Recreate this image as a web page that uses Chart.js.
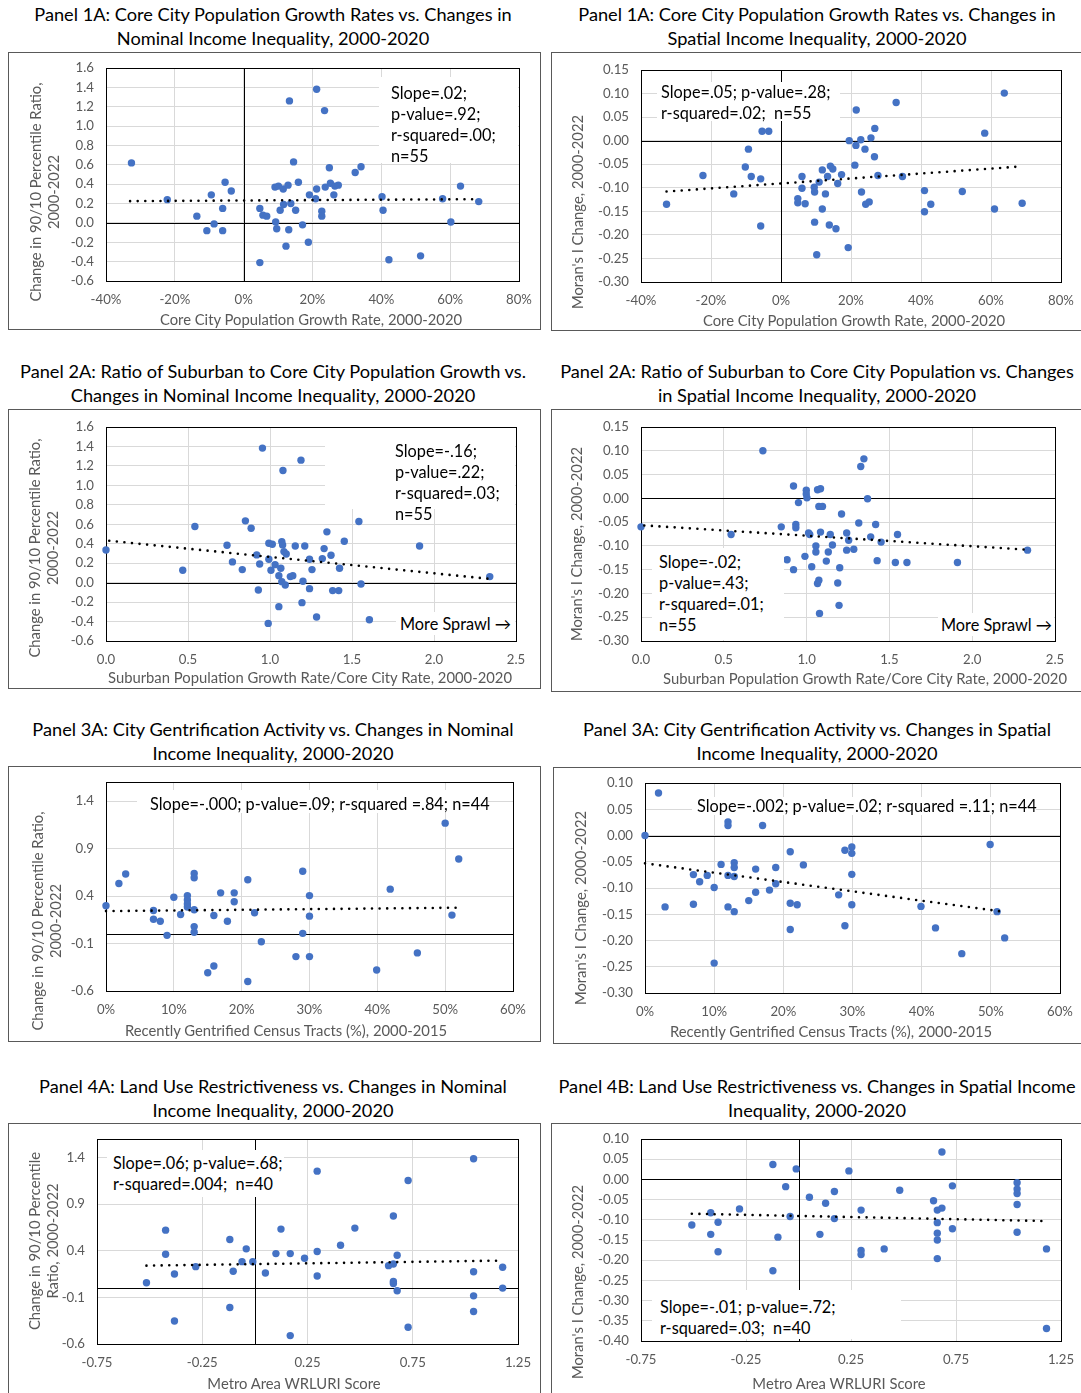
<!DOCTYPE html>
<html>
<head>
<meta charset="utf-8">
<script src="https://cdn.jsdelivr.net/npm/chart.js@4.4.0/dist/chart.umd.min.js"></script>
<style>
  body { margin: 0; width: 1081px; height: 1393px; background: #fff; position: relative; overflow: hidden;
         font-family: Lato, "Open Sans", sans-serif; }
  .title { position: absolute; width: 530px; text-align: center; font-size: 18.2px; line-height: 24px; color: #000; white-space: nowrap; }
  .box { position: absolute; box-sizing: border-box; border: 1px solid #595959; z-index: 3; }
  canvas { position: absolute; z-index: 1; }
  .bg { position: absolute; background: #fff; z-index: 2; }
  .note { position: absolute; font-size: 16.3px; color: #000; white-space: pre; z-index: 2; }
  .xt, .yt { position: absolute; color: #595959; white-space: nowrap; z-index: 2; text-align: center; }
  .xt { font-size: 14.8px; transform: translate(-50%, -50%); }
  .yt { font-size: 14.8px; line-height: 18px; transform: translate(-50%, -50%) rotate(-90deg); }
</style>
</head>
<body>
<script>
// Panel 1: core city population growth (%)
const growthNomX = [-32.6, -22.2, -13.6, -10.7, -9.4, -8.6, -6.1, -6.1, -5.4, -3.6, 4.7, 4.7, 5.6, 6.7, 9.1, 9.3, 9.6, 10.1, 10.6, 11.5, 11.6, 12.3, 12.9, 13.1, 13.3, 13.7, 14.5, 15.1, 15.9, 17.1, 18.8, 19.1, 20.9, 21.2, 21.2, 22.7, 22.7, 23.5, 23.7, 24.9, 25.2, 26.2, 26.5, 27.5, 32.4, 34.1, 40.2, 40.5, 42.2, 51.4, 57.8, 60.2, 63.0, 68.3];
const growthNomY = [0.62, 0.24, 0.07, -0.08, 0.29, -0.01, 0.15, -0.08, 0.42, 0.33, 0.15, -0.41, 0.08, 0.07, 0.37, 0.01, -0.06, 0.38, 0.13, 0.35, 0.19, -0.24, 0.39, -0.07, 1.26, 0.2, 0.63, 0.13, 0.42, -0.02, -0.2, 0.29, 0.25, 1.38, 0.35, 0.12, 0.07, 1.16, 0.37, 0.57, 0.41, 0.29, 0.38, 0.39, 0.52, 0.58, 0.27, 0.13, -0.38, -0.34, 0.25, 0.01, 0.38, 0.22];
const growthNomTrendX = [-33, 68];
const growthNomTrendY = [0.225, 0.245];

const growthSpaX = [-32.7, -22.3, -13.5, -10.2, -9.3, -8.5, -5.8, -5.8, -5.4, -3.5, 4.8, 4.8, 6.0, 6.0, 6.9, 9.5, 9.6, 9.6, 10.2, 10.9, 11.8, 11.8, 12.7, 13.3, 13.8, 14.1, 14.8, 15.7, 16.2, 17.3, 19.2, 19.5, 21.1, 21.4, 21.5, 22.8, 23.0, 24.0, 24.2, 25.2, 25.7, 26.7, 26.8, 27.7, 32.9, 34.7, 41.0, 41.0, 42.8, 51.8, 58.2, 61.0, 63.8, 68.9];
const growthSpaY = [-0.135, -0.074, -0.113, -0.056, -0.018, -0.076, -0.081, -0.181, 0.02, 0.02, -0.123, -0.132, -0.076, -0.101, -0.134, -0.099, -0.109, -0.173, -0.242, -0.088, -0.062, -0.145, -0.113, -0.076, -0.179, -0.054, -0.06, -0.187, -0.091, -0.072, -0.227, 0.0, -0.052, -0.01, 0.065, 0.002, -0.109, -0.018, -0.135, -0.13, 0.006, -0.034, 0.026, -0.074, 0.081, -0.076, -0.106, -0.151, -0.135, -0.108, 0.016, -0.145, 0.101, -0.133];
const growthSpaTrendX = [-32.7, 68.1];
const growthSpaTrendY = [-0.108, -0.055];

// Panel 2: suburban / core city growth ratio
const ratioNomX = [0, 0.468, 0.542, 0.738, 0.771, 0.831, 0.85, 0.885, 0.919, 0.929, 0.937, 0.954, 0.989, 0.993, 0.993, 1.006, 1.014, 1.031, 1.054, 1.054, 1.066, 1.072, 1.072, 1.077, 1.079, 1.085, 1.093, 1.099, 1.124, 1.139, 1.154, 1.189, 1.195, 1.201, 1.212, 1.241, 1.241, 1.256, 1.284, 1.319, 1.33, 1.347, 1.372, 1.382, 1.419, 1.424, 1.453, 1.542, 1.555, 1.606, 1.912, 2.34];
const ratioNomY = [0.336, 0.127, 0.577, 0.384, 0.213, 0.134, 0.635, 0.559, 0.285, -0.075, 0.192, 1.383, -0.419, 0.405, 0.24, 0.127, 0.395, 0.185, -0.247, 0.072, 0.148, 0.422, 0.01, 0.388, 1.153, 0.319, -0.024, 0.295, 0.062, 0.072, 0.377, 1.259, -0.206, 0.014, 0.377, 0.24, -0.062, 0.134, -0.353, 0.247, 0.35, 0.522, 0.281, -0.082, -0.082, 0.148, 0.426, 0.628, -0.014, -0.381, 0.377, 0.062];
const ratioNomTrendX = [0.02, 2.33];
const ratioNomTrendY = [0.43, 0.04];

const ratioSpaX = [0, 0.544, 0.736, 0.847, 0.882, 0.921, 0.921, 0.935, 0.935, 0.951, 0.99, 0.998, 0.998, 1.002, 1.012, 1.019, 1.031, 1.056, 1.056, 1.066, 1.066, 1.074, 1.078, 1.074, 1.084, 1.084, 1.096, 1.119, 1.131, 1.143, 1.156, 1.188, 1.196, 1.2, 1.211, 1.242, 1.242, 1.254, 1.285, 1.315, 1.327, 1.346, 1.368, 1.387, 1.417, 1.426, 1.45, 1.536, 1.549, 1.606, 1.911, 2.334];
const ratioSpaY = [-0.06, -0.076, 0.1, -0.06, -0.129, 0.026, -0.15, -0.055, -0.062, -0.009, -0.122, 0.017, 0.009, 0.001, -0.073, -0.076, -0.144, -0.1, -0.113, 0.018, -0.179, -0.172, -0.242, -0.017, 0.02, -0.071, -0.017, -0.132, -0.113, -0.076, -0.098, -0.178, -0.225, -0.146, -0.033, -0.073, -0.109, -0.088, -0.107, -0.052, 0.067, 0.083, -0.001, -0.081, -0.055, -0.131, -0.092, -0.135, -0.076, -0.135, -0.135, -0.109];
const ratioSpaTrendX = [0.02, 2.33];
const ratioSpaTrendY = [-0.057, -0.108];

// Panel 3: recently gentrified tracts (%)
const gentNomX = [0, 1.9, 2.9, 7, 7, 8, 9, 10, 11, 12, 12, 12, 12, 13, 13, 13, 13, 13, 15, 15.9, 15.9, 16.9, 17.9, 18.9, 18.9, 20.9, 20.9, 21.9, 22.9, 28, 29, 29, 30, 30, 30, 39.9, 41.9, 45.9, 50, 51, 52];
const gentNomY = [0.298, 0.532, 0.631, 0.248, 0.156, 0.135, -0.014, 0.387, 0.206, 0.404, 0.358, 0.316, 0.284, 0.638, 0.592, 0.255, 0.078, 0.018, -0.408, 0.195, -0.337, 0.433, 0.135, 0.433, 0.34, 0.571, -0.5, 0.223, -0.082, -0.238, 0.66, 0.007, 0.404, 0.188, -0.238, -0.379, 0.472, -0.199, 1.167, 0.199, 0.79];
const gentNomTrendX = [0, 52.1];
const gentNomTrendY = [0.241, 0.277];

const gentSpaX = [0, 1.95, 2.9, 7, 7, 7.9, 9, 10, 10, 11, 12, 12, 12, 12, 12.9, 12.9, 12.9, 12.9, 15, 16, 16, 17, 18, 18.9, 18.9, 21, 21, 21, 22, 22.9, 28, 28.9, 28.9, 29.9, 29.9, 29.9, 29.9, 39.9, 42, 45.8, 49.9, 50.9, 52];
const gentSpaY = [0, 0.081, -0.136, -0.0745, -0.131, -0.088, -0.076, -0.099, -0.243, -0.055, 0.026, 0.019, -0.076, -0.136, -0.052, -0.061, -0.078, -0.145, -0.124, -0.064, -0.108, 0.019, -0.104, -0.061, -0.092, -0.031, -0.129, -0.179, -0.132, -0.056, -0.113, -0.028, -0.172, -0.022, -0.034, -0.074, -0.132, -0.135, -0.176, -0.225, -0.017, -0.145, -0.195];
const gentSpaTrendX = [0, 51.7];
const gentSpaTrendY = [-0.053, -0.145];

// Panel 4: WRLURI score
const wrluriNomX = [-0.515, -0.424, -0.424, -0.382, -0.382, -0.281, -0.119, -0.119, -0.103, -0.061, -0.041, -0.01, 0.05, 0.1, 0.124, 0.168, 0.168, 0.236, 0.296, 0.296, 0.296, 0.407, 0.475, 0.635, 0.658, 0.658, 0.658, 0.658, 0.676, 0.676, 0.728, 0.728, 1.039, 1.039, 1.039, 1.039, 1.177, 1.177];
const wrluriNomY = [0.058, 0.622, 0.363, 0.151, -0.353, 0.23, 0.522, -0.209, 0.18, 0.284, 0.421, 0.284, 0.162, 0.37, 0.633, 0.37, -0.51, 0.32, 1.255, 0.392, 0.13, 0.46, 0.644, 0.241, 0.259, 0.773, 0.072, 0.05, 0.353, -0.029, 1.155, -0.421, 1.388, 0.176, -0.083, -0.252, 0.223, 0.0];
const wrluriNomTrendX = [-0.515, 1.172];
const wrluriNomTrendY = [0.241, 0.295];

const wrluriSpaX = [-0.508, -0.418, -0.418, -0.383, -0.383, -0.281, -0.122, -0.122, -0.098, -0.061, -0.04, -0.011, 0.052, 0.102, 0.129, 0.171, 0.171, 0.24, 0.298, 0.298, 0.298, 0.408, 0.482, 0.643, 0.661, 0.661, 0.661, 0.661, 0.661, 0.683, 0.683, 0.733, 0.733, 1.041, 1.041, 1.041, 1.041, 1.041, 1.181, 1.181];
const wrluriSpaY = [-0.113, -0.0825, -0.136, -0.106, -0.179, -0.073, 0.037, -0.226, -0.143, -0.018, -0.092, 0.026, -0.044, -0.136, -0.059, -0.03, -0.097, 0.021, -0.076, -0.176, -0.186, -0.172, -0.027, -0.053, -0.076, -0.107, -0.133, -0.15, -0.196, 0.068, -0.071, -0.016, -0.122, -0.008, -0.024, -0.035, -0.062, -0.131, -0.172, -0.369];
const wrluriSpaTrendX = [-0.508, 1.166];
const wrluriSpaTrendY = [-0.085, -0.103];

// tick labels
const growthTicks = [-40, -20, 0, 20, 40, 60, 80];
const ratioTicks = [0, 0.5, 1.0, 1.5, 2.0, 2.5];
const gentTicks = [0, 10, 20, 30, 40, 50, 60];
const wrluriTicks = [-0.75, -0.25, 0.25, 0.75, 1.25];
const nomTicks = [-0.6, -0.4, -0.2, 0, 0.2, 0.4, 0.6, 0.8, 1.0, 1.2, 1.4, 1.6];
const nomTicksWide = [-0.6, -0.1, 0.4, 0.9, 1.4];
const nomRange = [-0.6, 1.6];
const moranTicks1 = [-0.30, -0.25, -0.20, -0.15, -0.10, -0.05, 0, 0.05, 0.10, 0.15];
const moranTicks3 = [-0.30, -0.25, -0.20, -0.15, -0.10, -0.05, 0, 0.05, 0.10];
const moranTicks4 = [-0.40, -0.35, -0.30, -0.25, -0.20, -0.15, -0.10, -0.05, 0, 0.05, 0.10];

Chart.defaults.font.family = 'Lato, "Open Sans", sans-serif';

// plot border plus black zero axes
const frame = {
  id: 'frame',
  beforeDatasetsDraw(chart, args, opts) {
    const { ctx, chartArea: a, scales: { x, y } } = chart;
    ctx.save();
    ctx.strokeStyle = '#000';
    ctx.lineWidth = 1;
    if (opts.zeroY) {
      const py = Math.round(y.getPixelForValue(0)) + 0.5;
      ctx.beginPath(); ctx.moveTo(a.left, py); ctx.lineTo(a.right, py); ctx.stroke();
    }
    if (opts.zeroX) {
      const px = Math.round(x.getPixelForValue(0)) + 0.5;
      ctx.beginPath(); ctx.moveTo(px, a.top); ctx.lineTo(px, a.bottom); ctx.stroke();
    }
    ctx.strokeRect(Math.round(a.left) + 0.5, Math.round(a.top) + 0.5, Math.round(a.right - a.left), Math.round(a.bottom - a.top));
    ctx.restore();
  }
};

const pct = v => v + '%';
const fix = n => v => Number(v).toFixed(n);

const panels = [
  { box: [8, 52, 533, 278], plot: [106, 68, 519, 281], xs: growthNomX, ys: growthNomY, tx: growthNomTrendX, ty: growthNomTrendY,
    xTicks: growthTicks, yTicks: nomTicks, yRange: nomRange, xFmt: pct, yFmt: fix(1), zeroX: true, zeroY: true,
    title: ['Panel 1A: Core City Population Growth Rates vs. Changes in', 'Nominal Income Inequality, 2000-2020'], titleTop: 2,
    xTitle: ['Core City Population Growth Rate, 2000-2020', 311, 319],
    yTitle: [['Change in 90/10 Percentile Ratio,', '2000-2022'], 44, 192],
    notes: [{ bg: [379, 77, 139, 86], at: [391, 81.5], lh: 21, lines: ['Slope=.02;', 'p-value=.92;', 'r-squared=.00;', 'n=55'] }] },
  { box: [551, 52, 532, 279], plot: [641, 70, 1061, 282], xs: growthSpaX, ys: growthSpaY, tx: growthSpaTrendX, ty: growthSpaTrendY,
    xTicks: growthTicks, yTicks: moranTicks1, yRange: [-0.30, 0.15], xFmt: pct, yFmt: fix(2), zeroX: true, zeroY: true,
    title: ['Panel 1A: Core City Population Growth Rates vs. Changes in', 'Spatial Income Inequality, 2000-2020'], titleTop: 2,
    xTitle: ['Core City Population Growth Rate, 2000-2020', 854, 320],
    yTitle: [["Moran's I Change, 2000-2022"], 577, 212],
    notes: [{ bg: [657, 82, 183, 39], at: [661, 81], lh: 21, lines: ['Slope=.05; p-value=.28;', 'r-squared=.02;  n=55'] }] },
  { box: [8, 409, 533, 280], plot: [106, 427, 516, 641], xs: ratioNomX, ys: ratioNomY, tx: ratioNomTrendX, ty: ratioNomTrendY,
    xTicks: ratioTicks, yTicks: nomTicks, yRange: nomRange, xFmt: fix(1), yFmt: fix(1), zeroX: false, zeroY: true,
    title: ['Panel 2A: Ratio of Suburban to Core City Population Growth vs.', 'Changes in Nominal Income Inequality, 2000-2020'], titleTop: 359,
    xTitle: ['Suburban Population Growth Rate/Core City Rate, 2000-2020', 310, 677],
    yTitle: [['Change in 90/10 Percentile Ratio,', '2000-2022'], 43, 548],
    notes: [{ bg: [325, 428, 190, 81], at: [395, 439.5], lh: 21, lines: ['Slope=-.16;', 'p-value=.22;', 'r-squared=.03;', 'n=55'] },
            { bg: [396, 612, 119, 23], at: [400, 612.5], lh: 21, lines: ['More Sprawl \u2192'] }] },
  { box: [551, 409, 532, 283], plot: [641, 427, 1055, 641], xs: ratioSpaX, ys: ratioSpaY, tx: ratioSpaTrendX, ty: ratioSpaTrendY,
    xTicks: ratioTicks, yTicks: moranTicks1, yRange: [-0.30, 0.15], xFmt: fix(1), yFmt: fix(2), zeroX: false, zeroY: true,
    title: ['Panel 2A: Ratio of Suburban to Core City Population vs. Changes', 'in Spatial Income Inequality, 2000-2020'], titleTop: 359,
    xTitle: ['Suburban Population Growth Rate/Core City Rate, 2000-2020', 865, 678],
    yTitle: [["Moran's I Change, 2000-2022"], 576, 544],
    notes: [{ bg: [652, 548, 132, 92], at: [659, 550.5], lh: 21.3, lines: ['Slope=-.02;', 'p-value=.43;', 'r-squared=.01;', 'n=55'] },
            { bg: [938, 613, 116, 23], at: [941, 613.5], lh: 21, lines: ['More Sprawl \u2192'] }] },
  { box: [8, 766, 533, 276], plot: [106, 782, 513, 991], xs: gentNomX, ys: gentNomY, tx: gentNomTrendX, ty: gentNomTrendY,
    xTicks: gentTicks, yTicks: nomTicksWide, yRange: nomRange, xFmt: pct, yFmt: fix(1), zeroX: false, zeroY: true,
    title: ['Panel 3A: City Gentrification Activity vs. Changes in Nominal', 'Income Inequality, 2000-2020'], titleTop: 717,
    xTitle: ['Recently Gentrified Census Tracts (%), 2000-2015', 286, 1030],
    yTitle: [['Change in 90/10 Percentile Ratio,', '2000-2022'], 46, 921],
    notes: [{ bg: [137, 790, 351, 23], at: [150, 792.5], lh: 21, lines: ['Slope=-.000; p-value=.09; r-squared =.84; n=44'] }] },
  { box: [553, 767, 530, 277], plot: [645, 783, 1060, 993], xs: gentSpaX, ys: gentSpaY, tx: gentSpaTrendX, ty: gentSpaTrendY,
    xTicks: gentTicks, yTicks: moranTicks3, yRange: [-0.30, 0.10], xFmt: pct, yFmt: fix(2), zeroX: false, zeroY: true,
    title: ['Panel 3A: City Gentrification Activity vs. Changes in Spatial', 'Income Inequality, 2000-2020'], titleTop: 717,
    xTitle: ['Recently Gentrified Census Tracts (%), 2000-2015', 831, 1031],
    yTitle: [["Moran's I Change, 2000-2022"], 580, 908],
    notes: [{ bg: [692, 797, 344, 18], at: [697, 794.5], lh: 21, lines: ['Slope=-.002; p-value=.02; r-squared =.11; n=44'] }] },
  { box: [8, 1123, 533, 272], plot: [97, 1139, 518, 1344], xs: wrluriNomX, ys: wrluriNomY, tx: wrluriNomTrendX, ty: wrluriNomTrendY,
    xTicks: wrluriTicks, yTicks: nomTicksWide, yRange: nomRange, xFmt: fix(2), yFmt: fix(1), zeroX: true, zeroY: true,
    title: ['Panel 4A: Land Use Restrictiveness vs. Changes in Nominal', 'Income Inequality, 2000-2020'], titleTop: 1074,
    xTitle: ['Metro Area WRLURI Score', 294, 1383],
    yTitle: [['Change in 90/10 Percentile', 'Ratio, 2000-2022'], 43, 1241],
    notes: [{ bg: [107, 1150, 177, 47], at: [113, 1153], lh: 20.5, lines: ['Slope=.06; p-value=.68;', 'r-squared=.004;  n=40'] }] },
  { box: [551, 1123, 532, 272], plot: [641, 1139, 1061, 1341], xs: wrluriSpaX, ys: wrluriSpaY, tx: wrluriSpaTrendX, ty: wrluriSpaTrendY,
    xTicks: wrluriTicks, yTicks: moranTicks4, yRange: [-0.40, 0.10], xFmt: fix(2), yFmt: fix(2), zeroX: true, zeroY: true,
    title: ['Panel 4B: Land Use Restrictiveness vs. Changes in Spatial Income', 'Inequality, 2000-2020'], titleTop: 1074,
    xTitle: ['Metro Area WRLURI Score', 839, 1383],
    yTitle: [["Moran's I Change, 2000-2022"], 577, 1282],
    notes: [{ bg: [652, 1290, 249, 49], at: [660, 1295.5], lh: 21, lines: ['Slope=-.01; p-value=.72;', 'r-squared=.03;  n=40'] }] }
];

function addDiv(cls, css, html) {
  const d = document.createElement('div');
  d.className = cls;
  Object.assign(d.style, css);
  if (html !== undefined) d.innerHTML = html;
  document.body.appendChild(d);
  return d;
}

function esc(s) { return s.replace(/&/g, '&amp;').replace(/</g, '&lt;'); }

panels.forEach(p => {
  const [bl, bt, bw, bh] = p.box;
  const [pl, pt, pr, pb] = p.plot;

  addDiv('title', { left: (bl < 300 ? 8 : 552) + 'px', top: p.titleTop + 'px' }, p.title.map(esc).join('<br>'));
  addDiv('box', { left: bl + 'px', top: bt + 'px', width: bw + 'px', height: bh + 'px' });
  addDiv('xt', { left: p.xTitle[1] + 'px', top: p.xTitle[2] + 'px' }, esc(p.xTitle[0]));
  addDiv('yt', { left: p.yTitle[1] + 'px', top: p.yTitle[2] + 'px' }, p.yTitle[0].map(esc).join('<br>'));
  p.notes.forEach(n => {
    addDiv('bg', { left: n.bg[0] + 'px', top: n.bg[1] + 'px', width: n.bg[2] + 'px', height: n.bg[3] + 'px' });
    addDiv('note', { left: n.at[0] + 'px', top: n.at[1] + 'px', lineHeight: n.lh + 'px' }, n.lines.map(esc).join('<br>'));
  });

  const canvas = document.createElement('canvas');
  canvas.width = bw; canvas.height = bh;
  canvas.style.left = bl + 'px'; canvas.style.top = bt + 'px';
  document.body.appendChild(canvas);

  const L = pl - bl, T = pt - bt, R = bl + bw - pr, B = bt + bh - pb;

  new Chart(canvas, {
    type: 'scatter',
    data: {
      datasets: [
        {
          data: p.tx.map((x, i) => ({ x, y: p.ty[i] })),
          showLine: true, borderColor: '#000', borderWidth: 2.6, borderDash: [0, 7.6], borderCapStyle: 'round',
          pointRadius: 0, fill: false, clip: false
        },
        {
          data: p.xs.map((x, i) => ({ x, y: p.ys[i] })),
          backgroundColor: '#4472C4', borderWidth: 0, pointRadius: 3.7, clip: false
        }
      ]
    },
    options: {
      responsive: false,
      animation: false,
      events: [],
      layout: { padding: { left: 0, top: T, right: R, bottom: 0 } },
      plugins: {
        legend: { display: false },
        tooltip: { enabled: false },
        frame: { zeroX: p.zeroX, zeroY: p.zeroY }
      },
      scales: {
        x: {
          type: 'linear',
          min: p.xTicks[0],
          max: p.xTicks[p.xTicks.length - 1],
          afterBuildTicks: s => { s.ticks = p.xTicks.map(v => ({ value: v })); },
          afterFit: s => { s.height = B; s.paddingLeft = 0; s.paddingRight = 0; },
          grid: { color: '#d9d9d9', drawTicks: false },
          border: { display: false },
          ticks: { color: '#595959', padding: 11, maxRotation: 0, autoSkip: false, callback: p.xFmt, font: { size: 13.2 } }
        },
        y: {
          type: 'linear',
          min: p.yRange[0],
          max: p.yRange[1],
          afterBuildTicks: s => { s.ticks = p.yTicks.map(v => ({ value: v })); },
          afterFit: s => { s.width = L; s.paddingTop = 0; s.paddingBottom = 0; },
          grid: { color: '#d9d9d9', drawTicks: false },
          border: { display: false },
          ticks: { color: '#595959', padding: 12, autoSkip: false, callback: p.yFmt, font: { size: 13.2 } }
        }
      }
    },
    plugins: [frame]
  });
});
</script>
</body>
</html>
